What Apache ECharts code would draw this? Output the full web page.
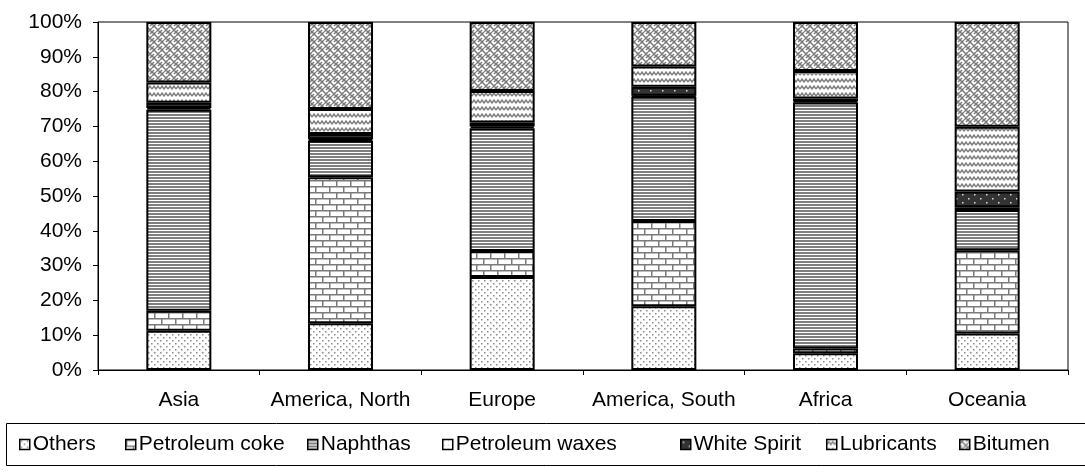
<!DOCTYPE html>
<html>
<head>
<meta charset="utf-8">
<script src="https://cdn.jsdelivr.net/npm/echarts@6/dist/echarts.min.js"></script>
<style>
  html, body { margin: 0; padding: 0; background: #fff; }
  #chart { width: 1085px; height: 472px; }
</style>
</head>
<body>
<div id="chart"></div>
<script>
const regions = ['Asia', 'America, North', 'Europe', 'America, South', 'Africa', 'Oceania'];
const seriesNames = ['Others', 'Petroleum coke', 'Naphthas', 'Petroleum waxes', 'White Spirit', 'Lubricants', 'Bitumen'];

// share of each product in %
const others      = [11.3, 13.4, 26.7, 18.3, 4.8, 10.5];
const petCoke     = [5.7, 42.0, 7.5, 24.5, 1.4, 23.9];
const naphthas    = [57.8, 10.5, 35.3, 35.7, 70.7, 11.6];
const petWaxes    = [0.5, 0.4, 0.5, 0.3, 0.3, 0.8];
const whiteSpirit = [1.5, 1.5, 1.1, 2.6, 0.8, 4.5];
const lubricants  = [5.8, 7.2, 9.1, 5.8, 7.9, 18.6];
const bitumen     = [17.4, 25.0, 19.8, 12.8, 14.1, 30.1];

const yTicks = [0, 10, 20, 30, 40, 50, 60, 70, 80, 90, 100];

const FONT = '"Liberation Sans", Arial, sans-serif';
const FS = 21;
// excel spreads the legend entries unevenly, so each one gets its own x
const legendLeft = [19, 125, 307, 442, 680, 826, 959];

// small canvas tiles to mimic the excel fill patterns
function tile(w, h, draw) {
    const c = document.createElement('canvas');
    c.width = w; c.height = h;
    const ctx = c.getContext('2d');
    ctx.fillStyle = '#fff';
    ctx.fillRect(0, 0, w, h);
    draw(ctx);
    return { image: c, repeat: 'repeat' };
}

const patterns = {
    dots: tile(6, 6, ctx => {
        ctx.fillStyle = '#8a8a8a';
        ctx.fillRect(1, 1, 1.5, 1.5);
        ctx.fillRect(4, 4, 1.5, 1.5);
    }),
    brick: tile(14, 12, ctx => {
        ctx.fillStyle = '#7a7a7a';
        ctx.fillRect(0, 0, 14, 1.5);
        ctx.fillRect(0, 6, 14, 1.5);
        ctx.fillRect(0, 0, 1.5, 6);
        ctx.fillRect(7, 6, 1.5, 6);
    }),
    hlines: tile(4, 3, ctx => {
        ctx.fillStyle = '#7f7f7f';
        ctx.fillRect(0, 0, 4, 2);
    }),
    waxes: tile(4, 4, ctx => {
        ctx.fillStyle = '#bbb';
        ctx.fillRect(1, 1, 1, 1);
    }),
    darkDots: tile(12, 8, ctx => {
        ctx.fillStyle = '#333';
        ctx.fillRect(0, 0, 12, 8);
        ctx.fillStyle = '#ddd';
        ctx.fillRect(2, 2, 1.5, 1.5);
        ctx.fillRect(8, 6, 1.5, 1.5);
    }),
    wave: tile(8, 7, ctx => {
        ctx.strokeStyle = '#808080';
        ctx.lineWidth = 1.5;
        ctx.beginPath();
        ctx.moveTo(0, 5); ctx.lineTo(2, 2); ctx.lineTo(4, 5); ctx.lineTo(6, 2); ctx.lineTo(8, 5);
        ctx.stroke();
    }),
    weave: tile(8, 8, ctx => {
        ctx.strokeStyle = '#7a7a7a';
        ctx.lineWidth = 1.5;
        ctx.beginPath();
        ctx.moveTo(0, 4); ctx.lineTo(4, 0);
        ctx.moveTo(4, 8); ctx.lineTo(8, 4);
        ctx.moveTo(0, 0); ctx.lineTo(4, 4);
        ctx.moveTo(4, 4); ctx.lineTo(8, 8);
        ctx.moveTo(2, 6); ctx.lineTo(0, 8);
        ctx.moveTo(8, 0); ctx.lineTo(6, 2);
        ctx.stroke();
    })
};

const seriesData = [others, petCoke, naphthas, petWaxes, whiteSpirit, lubricants, bitumen];
const seriesFill = [patterns.dots, patterns.brick, patterns.hlines, patterns.waxes,
    patterns.darkDots, patterns.wave, patterns.weave];

const chart = echarts.init(document.getElementById('chart'));

chart.setOption({
    animation: false,
    backgroundColor: '#fff',
    textStyle: { fontFamily: FONT, color: '#000' },
    grid: {
        left: 98, right: 17, top: 22, bottom: 102,
        show: true, borderColor: '#000', borderWidth: 1
    },
    graphic: [{
        type: 'rect',
        shape: { x: 6.5, y: 423.5, width: 1100, height: 42 },
        style: { fill: 'none', stroke: '#000', lineWidth: 1 },
        silent: true
    }],
    legend: seriesNames.map((name, i) => ({
        left: legendLeft[i], top: 434,
        padding: 0,
        itemWidth: 10, itemHeight: 10,
        icon: 'rect',
        itemStyle: { borderColor: '#000', borderWidth: 1.5 },
        textStyle: { fontSize: FS, fontFamily: FONT, color: '#000', padding: [0, 0, 0, -2] },
        data: [name]
    })),
    xAxis: {
        type: 'category',
        data: regions,
        axisLine: { lineStyle: { color: '#000', width: 1 } },
        axisTick: { show: true, length: 5, lineStyle: { color: '#000' } },
        axisLabel: { fontSize: FS, color: '#000', margin: 20, interval: 0, fontFamily: FONT }
    },
    yAxis: {
        type: 'value',
        min: yTicks[0], max: yTicks[yTicks.length - 1], interval: 10,
        axisLine: { show: true, lineStyle: { color: '#000', width: 1 } },
        axisTick: { show: true, length: 5, lineStyle: { color: '#000' } },
        splitLine: { show: false },
        axisLabel: { fontSize: FS, color: '#000', margin: 16, fontFamily: FONT, formatter: '{value}%' }
    },
    series: seriesNames.map((name, i) => ({
        name: name,
        type: 'bar',
        stack: 'total',
        barWidth: 65,
        data: seriesData[i],
        itemStyle: { color: seriesFill[i], borderColor: '#000', borderWidth: 2 }
    }))
});
</script>
</body>
</html>
